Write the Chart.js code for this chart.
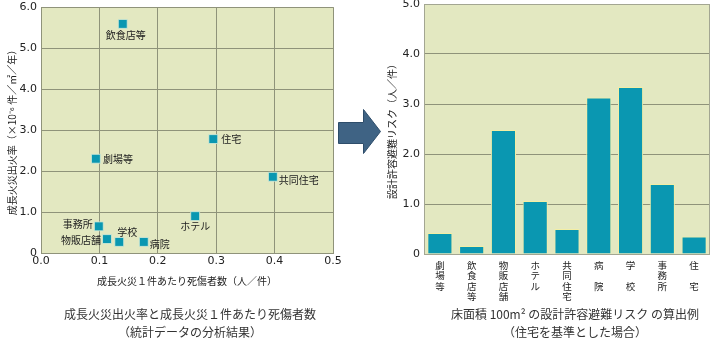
<!DOCTYPE html>
<html>
<head>
<meta charset="utf-8">
<script src="https://cdn.jsdelivr.net/npm/chart.js@4.4.1/dist/chart.umd.min.js"></script>
<style>
  body { margin: 0; background: #fff; width: 710px; height: 338px; position: relative; overflow: hidden; }
  #scatterWrap { position: absolute; left: 0; top: 0; width: 345px; height: 292px; }
  #barWrap { position: absolute; left: 380px; top: 0; width: 330px; height: 310px; }
  #arrow { position: absolute; left: 0; top: 0; }
  .caption { position: absolute; text-align: center; font-family: "Noto Sans CJK JP", sans-serif; font-size: 12px; color: #333; line-height: 18px; }
</style>
</head>
<body>
<div id="scatterWrap"><canvas id="scatter"></canvas></div>
<svg id="arrow" width="710" height="338">
  <polygon points="338.5,122.5 363.5,122.5 363.5,109.5 380.5,131.5 363.5,153.5 363.5,143.5 338.5,143.5"
           fill="#3f6384" stroke="#2e4d6a" stroke-width="1"/>
</svg>
<div id="barWrap"><canvas id="bars"></canvas></div>
<div class="caption" style="left:40px; top:305px; width:300px;">成長火災出火率と成長火災１件あたり死傷者数<br>（統計データの分析結果）</div>
<div class="caption" style="left:430px; top:305px; width:290px;">床面積 100m² の設計許容避難リスク の算出例<br>（住宅を基準とした場合）</div>

<script>
// building uses, scatter: casualties per growing fire vs. growing fire rate
const useNames = ["飲食店等", "住宅", "劇場等", "共同住宅", "ホテル", "事務所", "物販店舗", "学校", "病院"];
const casualtiesPerFire = [0.140, 0.295, 0.094, 0.397, 0.264, 0.099, 0.113, 0.134, 0.176];
const fireRate = [5.59, 2.78, 2.30, 1.86, 0.90, 0.65, 0.34, 0.27, 0.27];

// bar chart: allowable evacuation risk per 100 m2 floor area
// category names are written top-to-bottom, one character per row
const riskLabels = [
  ["劇", "場", "等"],
  ["飲", "食", "店", "等"],
  ["物", "販", "店", "舗"],
  ["ホ", "テ", "ル"],
  ["共", "同", "住", "宅"],
  ["病", "", "院"],
  ["学", "", "校"],
  ["事", "務", "所"],
  ["住", "", "宅"]
];
const riskValues = [0.42, 0.16, 2.48, 1.06, 0.50, 3.13, 3.34, 1.40, 0.35];

// where each scatter label sits relative to its marker: [dx, dy, align]
const labelPlacement = [
  [3, 11, "center"],
  [8, 0, "left"],
  [7, 0, "left"],
  [6, 3, "left"],
  [0, 10, "center"],
  [-6, -2, "right"],
  [-6, 1, "right"],
  [8, -10, "center"],
  [6, 2, "left"]
];

const PLOT_BG = "#e3e8c1";
const GRID = "#8f937a";
const MARK = "#0a97b1";
const TEXT = "#222";
const jpFont = '"Noto Sans CJK JP", sans-serif';

Chart.defaults.font.family = '"DejaVu Sans", "Noto Sans CJK JP", sans-serif';
Chart.defaults.color = TEXT;
Chart.defaults.animation = false;

// plot background + frame
const plotFrame = {
  id: "plotFrame",
  beforeDraw(chart) {
    const { ctx, chartArea: a } = chart;
    ctx.save();
    ctx.fillStyle = PLOT_BG;
    ctx.fillRect(a.left, a.top, a.right - a.left, a.bottom - a.top);
    ctx.restore();
  },
  afterDraw(chart, args, opts) {
    if (!opts.stroke) return;
    const { ctx, chartArea: a } = chart;
    ctx.save();
    ctx.strokeStyle = opts.stroke;
    ctx.lineWidth = 1;
    ctx.strokeRect(Math.round(a.left) + 0.5, Math.round(a.top) + 0.5,
                   Math.round(a.right - a.left) - 1, Math.round(a.bottom - a.top));
    ctx.restore();
  }
};

const pointLabels = {
  id: "pointLabels",
  afterDatasetsDraw(chart) {
    const { ctx } = chart;
    const meta = chart.getDatasetMeta(0);
    ctx.save();
    ctx.font = "10px " + jpFont;
    ctx.fillStyle = TEXT;
    ctx.textBaseline = "middle";
    meta.data.forEach((pt, i) => {
      const [dx, dy, align] = labelPlacement[i];
      ctx.textAlign = align;
      ctx.fillText(useNames[i], pt.x + dx, pt.y + dy);
    });
    ctx.restore();
  }
};

// vertical category names under the bars, one glyph per row
const verticalTicks = {
  id: "verticalTicks",
  afterDraw(chart) {
    const { ctx } = chart;
    const xs = chart.scales.x;
    ctx.save();
    ctx.font = "9.5px " + jpFont;
    ctx.fillStyle = TEXT;
    ctx.textAlign = "center";
    ctx.textBaseline = "middle";
    chart.data.labels.forEach((rows, i) => {
      const x = xs.getPixelForValue(i);
      rows.forEach((ch, r) => ctx.fillText(ch, x, xs.top + 11 + r * 10.5));
    });
    ctx.restore();
  }
};

new Chart(document.getElementById("scatter"), {
  type: "scatter",
  data: {
    datasets: [{
      data: casualtiesPerFire.map((x, i) => ({ x: x, y: fireRate[i] })),
      pointStyle: "rect",
      pointRadius: 6.3,
      backgroundColor: MARK,
      borderColor: "#d8ecd8",
      borderWidth: 0.8
    }]
  },
  options: {
    responsive: true,
    maintainAspectRatio: false,
    layout: { padding: { top: 5, right: 12, left: 0, bottom: 0 } },
    plugins: { legend: { display: false }, tooltip: { enabled: false }, plotFrame: {} },
    scales: {
      x: {
        type: "linear", min: 0, max: 0.5,
        ticks: { stepSize: 0.1, padding: 2, font: { size: 11 }, callback: v => v.toFixed(1) },
        grid: { color: GRID, drawTicks: false },
        border: { color: GRID },
        title: { display: true, text: "成長火災１件あたり死傷者数（人／件）", font: { size: 10, family: jpFont }, padding: { top: 0, bottom: 5 } },
        afterFit(s) { s.height = 39; s.paddingLeft = 0; s.paddingRight = 0; }
      },
      y: {
        min: 0, max: 6,
        ticks: { stepSize: 1, padding: 4, font: { size: 11 }, callback: v => v === 0 ? "0" : v.toFixed(1) },
        grid: { color: GRID, drawTicks: false },
        border: { color: GRID },
        title: { display: true, text: "成長火災出火率（×10⁻⁶ 件／㎡／年）", font: { size: 10, family: jpFont }, padding: { top: 6, bottom: 0 } },
        afterFit(s) { s.width = 41; s.paddingTop = 0; s.paddingBottom = 0; }
      }
    }
  },
  plugins: [plotFrame, pointLabels]
});

new Chart(document.getElementById("bars"), {
  type: "bar",
  data: {
    labels: riskLabels,
    datasets: [{
      data: riskValues,
      backgroundColor: MARK,
      borderColor: "#f3eea4",
      borderWidth: 1,
      borderSkipped: "bottom",
      categoryPercentage: 1,
      barPercentage: 0.79
    }]
  },
  options: {
    responsive: true,
    maintainAspectRatio: false,
    layout: { padding: { top: 4, right: 0, left: 0, bottom: 0 } },
    plugins: { legend: { display: false }, tooltip: { enabled: false }, plotFrame: { stroke: "#a3a692" } },
    scales: {
      x: {
        ticks: { display: false },
        grid: { display: false, drawTicks: false },
        border: { color: GRID },
        afterFit(s) { s.height = 56; s.paddingLeft = 0; s.paddingRight = 0; }
      },
      y: {
        min: 0, max: 5,
        ticks: { stepSize: 1, padding: 4, font: { size: 11 }, callback: v => v === 0 ? "0" : v.toFixed(1) },
        grid: { color: GRID, drawTicks: false },
        border: { color: GRID },
        title: { display: true, text: "設計許容避難リスク（人／件）", font: { size: 10, family: jpFont }, padding: { top: 6, bottom: 0 } },
        afterFit(s) { s.width = 44; s.paddingTop = 0; s.paddingBottom = 0; }
      }
    }
  },
  plugins: [plotFrame, verticalTicks]
});
</script>
</body>
</html>
